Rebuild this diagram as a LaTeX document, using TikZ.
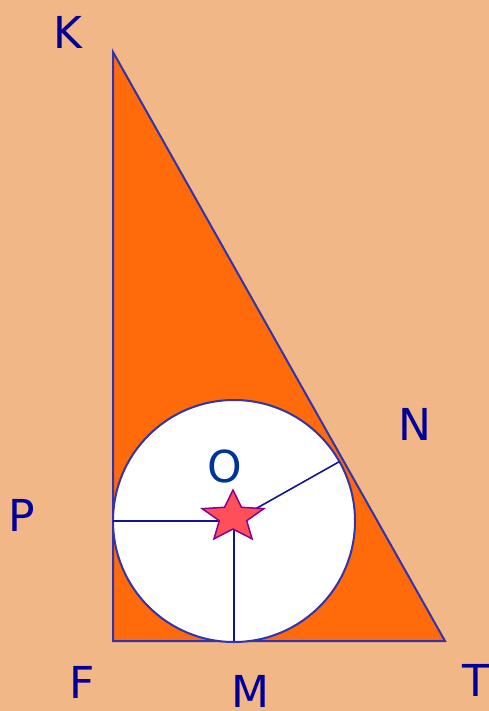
\documentclass[tikz,border=0pt]{standalone}
\usepackage{fontspec}
\usetikzlibrary{calc}
\setmainfont{DejaVu Sans}
\definecolor{bg}{RGB}{242,183,134}
\definecolor{tri}{RGB}{255,106,10}
\definecolor{edge}{RGB}{51,51,170}
\definecolor{rad}{RGB}{20,20,150}
\definecolor{lab}{RGB}{0,0,153}
\definecolor{labO}{RGB}{0,51,153}
\definecolor{starfill}{RGB}{255,80,90}
\definecolor{starline}{RGB}{140,0,140}
\tikzset{
  lbl/.style={text=lab,font=\fontsize{44}{48}\selectfont,inner sep=0pt},
  radline/.style={draw=rad,line width=1.6pt},
}
\begin{document}
\begin{tikzpicture}[x=1pt,y=-1pt]
\fill[bg] (0,0) rectangle (489,711);
\useasboundingbox (0,0) rectangle (489,711);
\coordinate (K) at (113,52);
\coordinate (F) at (113,641);
\coordinate (T) at (445,641);
\coordinate (O) at (234,521);
\coordinate (Pt) at (113,521);
\coordinate (Mt) at (234,641);
\coordinate (Nt) at ($(O)+(105.4,-59.4)$);
\filldraw[fill=tri,draw=edge,line width=2pt,line join=miter] (K) -- (F) -- (T) -- cycle;
\filldraw[fill=white,draw=edge,line width=2pt] (O) circle (121);
\draw[radline] (O) -- (Pt);
\draw[radline] (O) -- (Mt);
\draw[radline] (O) -- (Nt);
\begin{scope}[shift={(233,517)},x=1.2pt,y=1pt]
\filldraw[fill=starfill,draw=starline,line width=1.5pt,line join=miter]
  (90:27) -- (126:12) -- (162:27) -- (198:12) -- (234:27) -- (270:12)
  -- (306:27) -- (342:12) -- (18:27) -- (54:12) -- cycle;
\end{scope}
\node[lbl] (lK) at (68,32) {K};
\node[lbl] (lN) at (415,424) {N};
\node[lbl,text=labO] (lO) at (225,466) {O};
\node[lbl] (lP) at (22,515) {P};
\node[lbl] (lF) at (82,682) {F};
\node[lbl] (lM) at (250,691) {M};
\node[lbl] (lT) at (476,680) {T};
\end{tikzpicture}
\end{document}
